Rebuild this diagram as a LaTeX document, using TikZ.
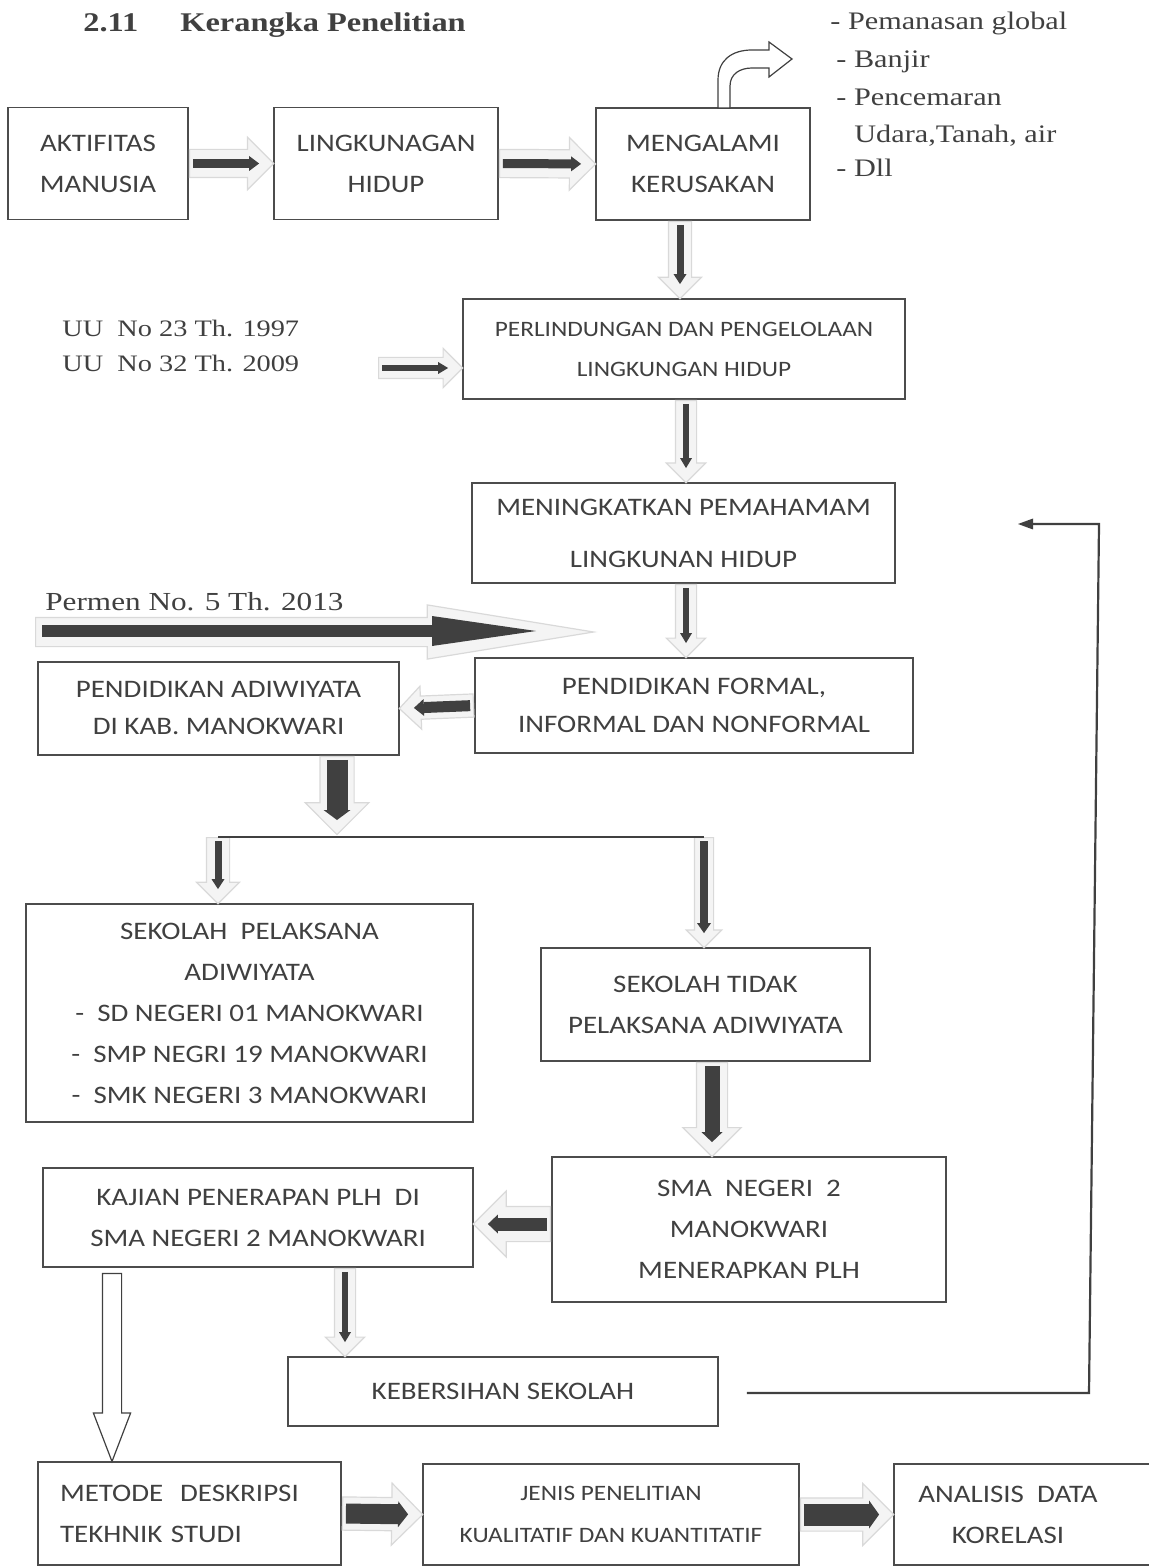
\documentclass[tikz,border=0pt]{standalone}
\usepackage{fontspec}
\usetikzlibrary{positioning,calc,arrows.meta,shapes.arrows}

\newfontfamily\boxfont[FakeStretch=1.15]{Carlito}
\newfontfamily\serif[FakeStretch=1.2]{Liberation Serif}
\colorlet{ink}{black!75}

% light block arrow with a dark arrow inside it
\newcommand{\fatarrow}[5]{% name, from, to, light shaft (pt), dark shaft (pt)
  \pgfmathsetmacro\halfshaft{#4/2}%
  \pgfmathsetmacro\headext{#4*0.45}%
  \pgfmathsetmacro\tipwidth{#5+3}%
  \path let \p1=($(#3)-(#2)$), \n1={atan2(\y1,\x1)}, \n2={veclen(\x1,\y1)} in
    node[glow, anchor=tail, rotate=\n1, minimum height=\n2,
         inner ysep=\halfshaft pt, single arrow head extend=\headext pt] (#1) at (#2) {};
  \draw[core, line width=#5pt, -{Triangle[line width=0pt, length=5pt, width=\tipwidth pt]}]
    ($(#2)!2pt!(#3)$) -- ($(#3)!7pt!(#2)$);
}

\begin{document}
\begin{tikzpicture}[
    x=0.5pt, y=-0.5pt,
    box/.style={draw=black!70, line width=0.9pt, text=ink, align=center, inner sep=0pt,
                font=\boxfont\fontsize{12.6}{20.5}\selectfont},
    boxsmall/.style={box, font=\boxfont\fontsize{11}{20}\selectfont},
    note/.style={text=ink, inner sep=0pt, anchor=base west,
                 font=\serif\fontsize{12.6}{18.5}\selectfont},
    glow/.style={single arrow, draw=gray!30, fill=gray!9, line width=0.6pt,
                 inner xsep=0pt, text height=0pt, text depth=0pt,
                 single arrow tip angle=90},
    hollow/.style={draw=ink, fill=white, line width=0.6pt},
    core/.style={draw=ink},
    wire/.style={draw=ink, line width=1pt},
    back/.style={draw=ink, line width=1.1pt,
                 -{Triangle[line width=0pt, length=7.5pt, width=5.5pt]}}
]
\useasboundingbox (0,0) rectangle (1149,1566);

% Title
\node[note, font=\serif\bfseries\fontsize{13.5}{16}\selectfont] (judulno) at (83,32) {2.11};
\node[note, font=\serif\bfseries\fontsize{13.5}{16}\selectfont] (judul) at (180,32) {Kerangka Penelitian};

% Top row
\node[box, minimum width=90pt, minimum height=56pt] (aktif) at (98,163.5) {AKTIFITAS\\MANUSIA};
\node[box, minimum width=112pt, minimum height=56pt] (lingk) at (386,163.5) {LINGKUNAGAN\\HIDUP};
\node[box, minimum width=107pt, minimum height=56pt] (rusak) at (703,164) {MENGALAMI\\KERUSAKAN};

% Damage list
\foreach \xx/\yy/\t [count=\i] in {830/30/{- Pemanasan global}, 836/68/{- Banjir},
    836/106/{- Pencemaran}, 854/143/{Udara,Tanah, air}, 836/177/{- Dll}}
  \node[note] (dampak\i) at (\xx,\yy) {\t};

% Bent arrow to the list
\draw[hollow] (718,108) -- (718,80) .. controls (718,60) and (732,50) .. (752,50)
  -- (769,50) -- (769,42) -- (792,59) -- (769,77) -- (769,68) -- (752,68)
  .. controls (740,68) and (730,74) .. (730,86) -- (730,108) -- cycle;

% Middle column
\node[boxsmall, minimum width=221pt, minimum height=50pt] (lindung) at (684,349)
  {PERLINDUNGAN DAN PENGELOLAAN\\LINGKUNGAN HIDUP};
\node[box, font=\boxfont\fontsize{12.6}{26}\selectfont, minimum width=211.5pt, minimum height=50pt]
  (paham) at (683.5,533) {MENINGKATKAN PEMAHAMAM\\LINGKUNAN HIDUP};
\node[box, font=\boxfont\fontsize{12.6}{19}\selectfont, minimum width=219pt, minimum height=47.5pt]
  (formal) at (694,705.5) {PENDIDIKAN FORMAL,\\INFORMAL DAN NONFORMAL};
\node[box, font=\boxfont\fontsize{12.6}{18.5}\selectfont, minimum width=180.5pt, minimum height=46.5pt]
  (adiw) at (218.5,708.5) {PENDIDIKAN ADIWIYATA\\DI KAB. MANOKWARI};

% Laws
\node[note, font=\serif\fontsize{11.8}{16}\selectfont] (uu1) at (62,337) {UU\ \ No 23 Th. 1997};
\node[note, font=\serif\fontsize{11.8}{16}\selectfont] (uu2) at (62,372) {UU\ \ No 32 Th. 2009};
\node[note, font=\serif\fontsize{13}{16}\selectfont] (permen) at (45,610) {Permen No. 5 Th. 2013};

% Schools
\node[box, minimum width=223.5pt, minimum height=109pt] (pelaks) at (249.5,1013)
  {SEKOLAH\ \ PELAKSANA\\ADIWIYATA\\-\ \ SD NEGERI 01 MANOKWARI\\-\ \ SMP NEGRI 19 MANOKWARI\\-\ \ SMK NEGERI 3 MANOKWARI};
\node[box, minimum width=164.5pt, minimum height=56.5pt] (tidak) at (705.5,1004.5)
  {SEKOLAH TIDAK\\PELAKSANA ADIWIYATA};
\node[box, minimum width=197pt, minimum height=72.5pt] (sma) at (749,1229.5)
  {SMA\ \ NEGERI\ \ 2\\MANOKWARI\\MENERAPKAN PLH};
\node[box, minimum width=215pt, minimum height=49.5pt] (kajian) at (258,1217.5)
  {KAJIAN PENERAPAN PLH\ \ DI\\SMA NEGERI 2 MANOKWARI};
\node[box, minimum width=215pt, minimum height=34.5pt] (bersih) at (503,1391.5) {KEBERSIHAN SEKOLAH};

% Bottom row
\node[box, align=left, text width=129.5pt, inner xsep=11pt, minimum height=51.5pt]
  (metode) at (189.5,1513.5) {METODE\ \ DESKRIPSI\\TEKHNIK STUDI};
\node[boxsmall, font=\boxfont\fontsize{11}{21}\selectfont, minimum width=188pt, minimum height=50.5pt]
  (jenis) at (611,1514.5) {JENIS PENELITIAN\\KUALITATIF DAN KUANTITATIF};
\node[box, minimum width=133pt, minimum height=50.5pt] (analisis) at (1027,1514.5)
  {ANALISIS\ \ DATA\hspace*{19pt}\\KORELASI\hspace*{19pt}};

% Helper points
\coordinate (colA) at (680,0);
\coordinate (colB) at (686,0);
\coordinate (colC) at (337,0);
\coordinate (colD) at (712,0);
\coordinate (rowE) at (0,1224);
\coordinate (colF) at (345,0);
\coordinate (colG) at (112,0);
\coordinate (uuTail) at (378,368);
\coordinate (fork) at (337,834);
\coordinate (forkL) at (218,837);
\coordinate (forkR) at (704,837);
\coordinate (permenL) at (35,632);
\coordinate (permenR) at (593,632);
\coordinate (fbA) at (1089,1393);
\coordinate (fbB) at (1099,524);
\coordinate (fbEnd) at (1018,524);

% Block arrows
\fatarrow{a1}{aktif.east}{lingk.west}{13.5}{4.5}
\fatarrow{a2}{lingk.east}{rusak.west}{13.5}{4.5}
\fatarrow{a3}{rusak.south -| colA}{lindung.north -| colA}{11}{3.5}
\fatarrow{a4}{uuTail}{uuTail -| lindung.west}{10}{3}
\fatarrow{a5}{lindung.south -| colB}{paham.north -| colB}{10}{3}
\fatarrow{a6}{paham.south -| colB}{formal.north -| colB}{10}{3}
\fatarrow{a7}{formal.west}{adiw.east}{11}{5.5}
\fatarrow{a8}{adiw.south -| colC}{fork}{16.5}{10.5}
\fatarrow{a9}{forkL}{pelaks.north -| forkL}{11}{3.5}
\fatarrow{a10}{forkR}{tidak.north -| forkR}{9}{4}
\fatarrow{a11}{tidak.south -| colD}{sma.north -| colD}{15}{7.5}
\fatarrow{a12}{sma.west |- rowE}{kajian.east |- rowE}{17}{6.5}
\fatarrow{a13}{kajian.south -| colF}{bersih.north -| colF}{10}{3}
\fatarrow{a15}{metode.east}{jenis.west}{16}{10}
\fatarrow{a16}{jenis.east}{analisis.west}{16}{11}

% Fork line
\draw[wire] (forkL) -- (forkR);

% Permen arrow
\node[glow, anchor=tail, minimum height=279pt, inner ysep=7pt,
      single arrow head extend=6.25pt, single arrow tip angle=18.5] (a17) at (permenL) {};
\draw[core, line width=6pt, -{Triangle[line width=0pt, length=52pt, width=15pt]}]
  ($(permenL)+(7,-1)$) -- ($(permenR)+(-57,-1)$);

% Hollow arrow to the method box
\node[single arrow, hollow, anchor=tail, rotate=-90, minimum height=94pt,
      inner xsep=0pt, inner ysep=4.5pt, text height=0pt, text depth=0pt,
      single arrow head extend=4.5pt, single arrow tip angle=42] (a14)
  at ($(kajian.south -| colG)+(0,5)$) {};

% Feedback line
\draw[back] ($(bersih.east)+(28,1.5)$) -- (fbA) -- (fbB) -- (fbEnd);

\end{tikzpicture}
\end{document}
